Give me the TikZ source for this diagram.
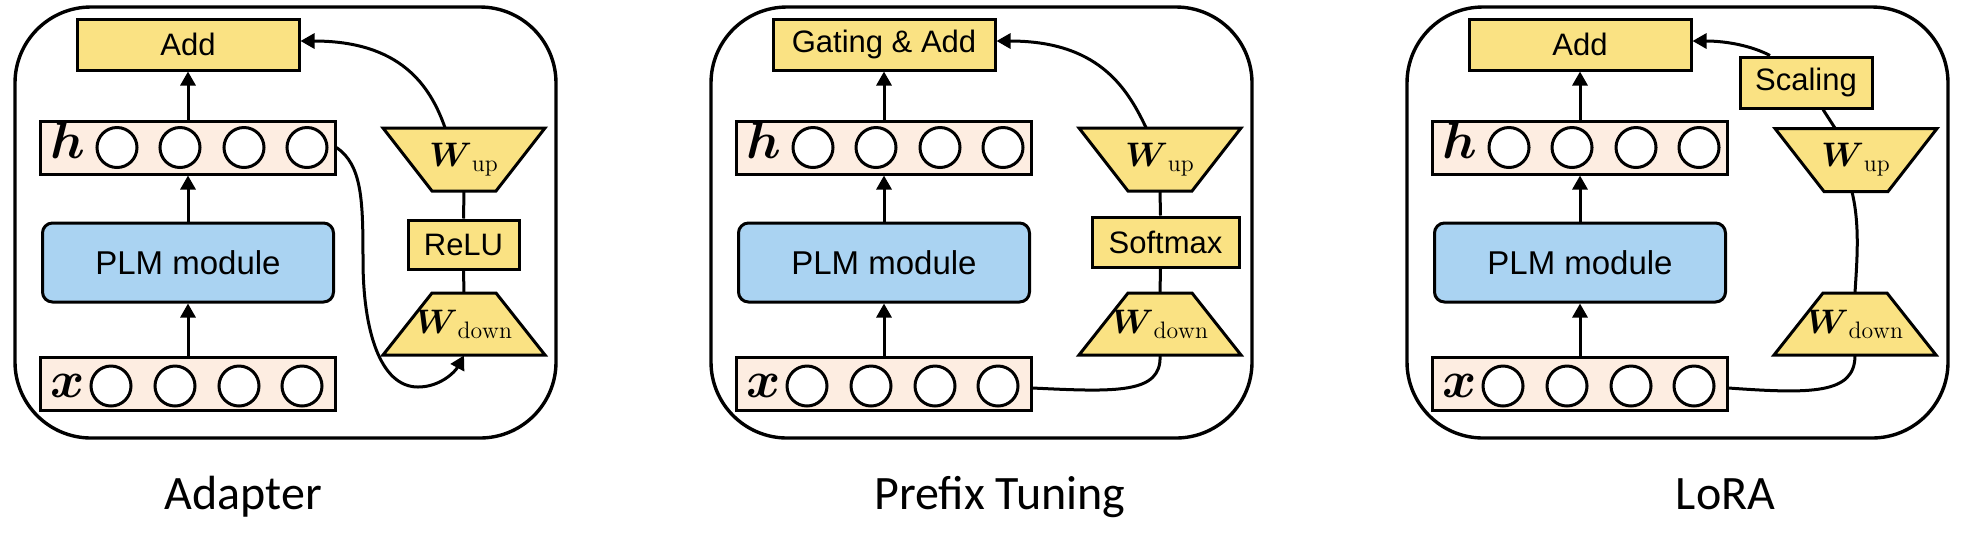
\RequirePackage{fix-cm}
\documentclass[tikz,border=0pt]{standalone}
\usepackage{amsmath}
\usepackage{fontspec}
\newfontfamily\arialfont{Liberation Sans}
\newfontfamily\capfont{Carlito}
\usetikzlibrary{arrows.meta,calc}
\definecolor{yfill}{HTML}{FAE283}
\definecolor{pfill}{HTML}{FDEDE1}
\definecolor{bfill}{HTML}{AAD3F2}
\newcommand\boxfont{\arialfont\fontsize{15.5}{18}\selectfont}
\tikzset{
  panelframe/.style={draw, line width=1.7pt, rounded corners=38pt, minimum width=270.5pt, minimum height=215.5pt, inner sep=0pt},
  ybox/.style={draw, line width=1.5pt, fill=yfill, font=\boxfont, inner sep=0pt},
  vecrow/.style={draw, line width=1.5pt, fill=pfill, minimum width=147.5pt, minimum height=26.5pt, inner sep=0pt},
  neuron/.style={circle, draw, line width=1.5pt, fill=white, minimum size=20pt, inner sep=0pt},
  plm/.style={draw, line width=1.5pt, fill=bfill, rounded corners=5pt, minimum width=145.5pt, minimum height=39.5pt, font=\arialfont\fontsize{16.5}{18}\selectfont, inner sep=0pt},
  mlab/.style={inner sep=0pt, font=\fontsize{26}{28}\selectfont, anchor=base},
  wlab/.style={inner sep=0pt, minimum width=81pt, minimum height=31.5pt, font=\fontsize{17}{19}\selectfont},
  trap/.style={fill=yfill, draw, line width=1.5pt, line join=miter},
  conn/.style={line width=1.5pt},
  arr/.style={line width=1.5pt, -{Triangle[width=7.5pt,length=7pt]}},
  ptitle/.style={anchor=base, inner sep=0pt, font=\capfont\fontsize{24}{28}\selectfont}
}
\newcommand\trapup[2]{\path[trap] ({#1-81},{#2-31.5}) -- ({#1+81},{#2-31.5}) -- ({#1+32},{#2+31.5}) -- ({#1-32},{#2+31.5}) -- cycle;}
\newcommand\trapdown[2]{\path[trap] ({#1-32},{#2-31}) -- ({#1+32},{#2-31}) -- ({#1+81},{#2+31}) -- ({#1-81},{#2+31}) -- cycle;}
\newcommand\leftcol[2]{%
  \node[panelframe] (#1frame) at (285.5,222.5) {};
  \node[ybox, minimum width=111pt, minimum height=25.5pt] (#1add) at (188,44.5) {#2};
  \node[vecrow] (#1h) at (187.5,147.5) {};
  \node[mlab] (#1hl) at (68,158) {$\boldsymbol{h}$};
  \foreach \i/\xx in {1/117,2/180,3/244,4/307}{\node[neuron] (#1h\i) at (\xx,147.5) {};}
  \node[plm] (#1plm) at (188,262.5) {PLM module};
  \node[vecrow] (#1x) at (187.5,384) {};
  \node[mlab] (#1xl) at (68,397) {$\boldsymbol{x}$};
  \foreach \i/\xx in {1/111,2/175,3/239,4/302}{\node[neuron] (#1x\i) at (\xx,386) {};}
  \draw[arr] ([xshift=0.25pt]#1x.north) -- (#1plm.south);
  \draw[arr] (#1plm.north) -- ([xshift=0.25pt]#1h.south);
  \draw[arr] ([xshift=0.25pt]#1h.north) -- (#1add.south);
}
\begin{document}
\begin{tikzpicture}[x=0.5pt,y=-0.5pt]
\useasboundingbox (0,0) rectangle (1986,538);
% ---------- Adapter ----------
\begin{scope}
  \leftcol{a}{Add}
  \trapup{464}{159.5}
  \node[wlab] (aup) at (464,159.5) {$\boldsymbol{W}_{\mathrm{up}}$};
  \node[ybox, minimum width=55.5pt, minimum height=24.5pt] (arelu) at (463.5,244.5) {ReLU};
  \trapdown{464}{324}
  \node[wlab, minimum height=31pt] (adown) at (464,324) {$\boldsymbol{W}_{\mathrm{down}}$};
  \draw[conn] (aup.south) -- (arelu.north);
  \draw[conn] (arelu.south) -- (adown.north);
  \draw[arr] ([xshift=-9.5pt]aup.north) .. controls (430,85) and (400,41) .. ([yshift=1.75pt]aadd.east);
  \draw[arr] (ah.east) .. controls (362,165) and (363,200) .. (363,260) .. controls (363,330) and (380,387) .. (418,387) .. controls (440,387) and (455,372) .. (adown.south);
\end{scope}
% ---------- Prefix Tuning ----------
\begin{scope}[xshift=348pt]
  \leftcol{b}{Gating \& Add}
  \trapup{464}{159.5}
  \node[wlab] (bup) at (464,159.5) {$\boldsymbol{W}_{\mathrm{up}}$};
  \node[ybox, minimum width=73.5pt, minimum height=25pt] (bsoft) at (469.5,242) {Softmax};
  \trapdown{464}{324}
  \node[wlab, minimum height=31pt] (bdown) at (464,324) {$\boldsymbol{W}_{\mathrm{down}}$};
  \draw[conn] (bup.south) -- ([xshift=-2.5pt]bsoft.north);
  \draw[conn] ([xshift=-2.5pt]bsoft.south) -- (bdown.north);
  \draw[arr] ([xshift=-7pt]bup.north) .. controls (430,85) and (400,41) .. ([yshift=1.75pt]badd.east);
  \draw[conn] ([yshift=-2pt]bx.east) .. controls (420,392) and (466,394) .. (bdown.south);
\end{scope}
% ---------- LoRA ----------
\begin{scope}[xshift=696pt]
  \leftcol{c}{Add}
  \node[ybox, minimum width=66pt, minimum height=25.5pt] (cscale) at (414,82.5) {Scaling};
  \trapup{464}{160}
  \node[wlab] (cup) at (464,160) {$\boldsymbol{W}_{\mathrm{up}}$};
  \trapdown{463}{324}
  \node[wlab, minimum height=31pt] (cdown) at (463,324) {$\boldsymbol{W}_{\mathrm{down}}$};
  \draw[conn] ([xshift=8.5pt]cscale.south) -- ([xshift=-10.5pt]cup.north);
  \draw[arr] ([xshift=-18pt]cscale.north) .. controls (360,46) and (335,41) .. ([yshift=1.75pt]cadd.east);
  \draw[conn] ([xshift=-2pt]cup.south) .. controls (468,225) and (465,260) .. (cdown.north);
  \draw[conn] ([yshift=-2pt]cx.east) .. controls (420,394) and (463,394) .. (cdown.south);
\end{scope}
% ---------- titles ----------
\node[ptitle] (t1) at (243.5,509) {Adapter};
\node[ptitle] (t2) at (1000,509) {Prefix Tuning};
\node[ptitle] (t3) at (1725.5,509) {LoRA};
\end{tikzpicture}
\end{document}
